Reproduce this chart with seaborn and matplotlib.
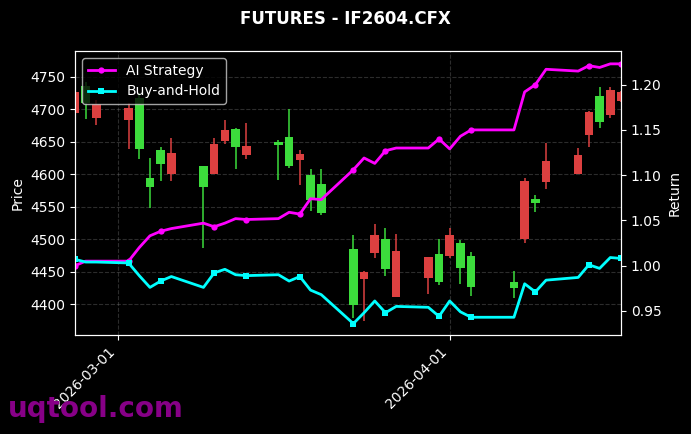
import numpy as np
import pandas as pd
import matplotlib
matplotlib.use("Agg")
import matplotlib.pyplot as plt
import matplotlib.dates as mdates
import seaborn as sns

dates = ["2026-02-25", "2026-02-26", "2026-02-27",
         "2026-03-02", "2026-03-03", "2026-03-04", "2026-03-05", "2026-03-06",
         "2026-03-09", "2026-03-10", "2026-03-11", "2026-03-12", "2026-03-13",
         "2026-03-16", "2026-03-17", "2026-03-18", "2026-03-19", "2026-03-20",
         "2026-03-23", "2026-03-24", "2026-03-25", "2026-03-26", "2026-03-27",
         "2026-03-30", "2026-03-31", "2026-04-01", "2026-04-02", "2026-04-03",
         "2026-04-07", "2026-04-08", "2026-04-09", "2026-04-10",
         "2026-04-13", "2026-04-14", "2026-04-15", "2026-04-16", "2026-04-17"]

open_ = [4727.4, 4710.4, 4708.0, 4702.7, 4639.6, 4580.6, 4615.6, 4633.0,
         4580.6, 4647.3, 4668.4, 4642.2, 4643.7, 4645.3, 4612.9, 4631.0,
         4560.1, 4540.1, 4398.9, 4450.2, 4506.7, 4454.8, 4482.1, 4472.8,
         4434.8, 4506.7, 4456.3, 4426.6, 4425.5, 4589.8, 4556.4, 4620.6,
         4629.9, 4696.1, 4681.2, 4729.5, 4726.9]
high = [4730.0, 4742.0, 4715.0, 4710.0, 4725.0, 4625.7, 4642.2, 4655.6,
        4613.0, 4655.6, 4683.3, 4671.0, 4679.6, 4652.5, 4700.3, 4638.0,
        4608.8, 4607.9, 4506.2, 4451.0, 4523.2, 4517.9, 4507.8, 4473.0,
        4500.1, 4517.9, 4499.4, 4480.0, 4451.2, 4594.0, 4568.3, 4648.8,
        4641.1, 4697.0, 4734.6, 4734.6, 4728.0]
low = [4692.0, 4685.3, 4676.0, 4638.7, 4623.3, 4548.7, 4589.8, 4589.8,
       4487.1, 4600.0, 4647.3, 4607.9, 4624.2, 4590.9, 4610.3, 4583.2,
       4543.6, 4537.0, 4379.3, 4374.2, 4471.7, 4443.5, 4411.0, 4416.3,
       4430.5, 4471.7, 4430.8, 4412.7, 4410.1, 4494.8, 4542.1, 4577.0,
       4600.0, 4642.2, 4671.0, 4687.3, 4711.0]
close = [4695.0, 4736.0, 4687.3, 4683.8, 4718.0, 4595.0, 4637.1, 4600.2,
         4612.9, 4600.2, 4651.4, 4670.4, 4629.9, 4650.4, 4657.6, 4621.7,
         4599.1, 4585.7, 4485.6, 4438.9, 4479.4, 4500.1, 4411.2, 4440.9,
         4477.7, 4474.8, 4494.8, 4474.3, 4434.3, 4500.1, 4561.7, 4588.8,
         4600.2, 4660.7, 4720.7, 4691.5, 4713.0]

ai_strategy = [1.000, 1.005, 1.005, 1.005, 1.020, 1.033, 1.038, 1.041,
               1.047, 1.043, 1.047, 1.052, 1.051, 1.052, 1.059, 1.057,
               1.074, 1.073, 1.106, 1.119, 1.113, 1.127, 1.130, 1.130,
               1.140, 1.129, 1.143, 1.150, 1.150, 1.192, 1.200, 1.217,
               1.215, 1.221, 1.219, 1.223, 1.223]
buy_hold = [1.007, 1.004, 1.004, 1.003, 0.989, 0.976, 0.983, 0.988,
            0.976, 0.992, 0.996, 0.990, 0.989, 0.990, 0.983, 0.988,
            0.973, 0.968, 0.936, 0.948, 0.961, 0.948, 0.955, 0.954,
            0.944, 0.961, 0.949, 0.943, 0.943, 0.980, 0.971, 0.984,
            0.987, 1.001, 0.997, 1.009, 1.008]

title = "FUTURES - IF2604.CFX"

plt.style.use("dark_background")
plt.rcParams["font.family"] = ["DejaVu Sans"]

df = pd.DataFrame({"date": pd.to_datetime(dates), "open": open_, "high": high,
                   "low": low, "close": close,
                   "AI Strategy": ai_strategy, "Buy-and-Hold": buy_hold})

fig, ax = plt.subplots(figsize=(6.91, 4.34), dpi=100)
fig.subplots_adjust(left=75/691, right=621/691, top=1-51/434, bottom=1-335/434)

up = df["close"] >= df["open"]
red = "#dc4040"
green = "#3cdc3c"
cols = np.where(up, green, red)
xd = mdates.date2num(df["date"])

ax.vlines(xd, df["low"], df["high"], colors=cols, linewidth=1.1, zorder=2)
ax.bar(xd, (df["close"] - df["open"]).abs(), bottom=np.minimum(df["open"], df["close"]),
       width=0.8, color=cols, zorder=3)
ax.grid(True, linestyle="--", color="gray", alpha=0.35, linewidth=0.8)
ax.set_axisbelow(True)
ax.set_ylim(4353, 4790)
ax.set_ylabel("Price")

ax2 = ax.twinx()
sns.lineplot(data=df, x="date", y="AI Strategy", ax=ax2, color="#ff00ff",
             linewidth=2, marker="o", markersize=4.5, markevery=3,
             markeredgewidth=0, label="AI Strategy")
sns.lineplot(data=df, x="date", y="Buy-and-Hold", ax=ax2, color="#00ffff",
             linewidth=2, marker="s", markersize=4.2, markevery=3,
             markeredgewidth=0, label="Buy-and-Hold")
ax2.set_ylim(0.9234, 1.2372)
ax2.set_ylabel("Return")
ax2.set_xlabel("")
ax.set_xlabel("")
ax2.grid(False)
ax2.legend(loc="upper left", fontsize=10)

ax.set_xlim(xd[0], xd[-1])
ax.xaxis.set_major_locator(mdates.MonthLocator())
ax.xaxis.set_major_formatter(mdates.DateFormatter("%Y-%m-%d"))
for lbl in ax.get_xticklabels():
    lbl.set_rotation(45)
    lbl.set_ha("right")
ax2.set_xlim(xd[0], xd[-1])

fig.suptitle(title, fontsize=12, fontweight="bold", y=0.978)
fig.text(0.012, 0.058, "uqtool.com", fontsize=20, fontweight="bold", color="#870087",
         ha="left", va="center")

fig.savefig("out.png", dpi=100)
